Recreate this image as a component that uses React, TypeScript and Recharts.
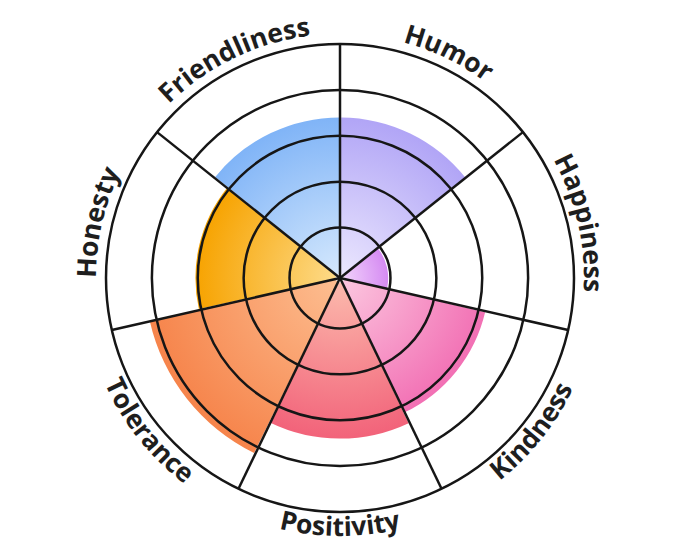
import { RadialBarChart, RadialBar, PolarAngleAxis, PolarRadiusAxis, PolarGrid, Sector } from "recharts";

// categories clockwise from 12 o'clock
const categories = ["Humor", "Happiness", "Kindness", "Positivity", "Tolerance", "Honesty", "Friendliness"];
const scores = [68, 19, 63, 68, 83, 61, 68];
const ringTicks = [20, 40, 60, 80, 100];

const innerColors = ["#ece8fe", "#f3d6fc", "#fcc8e0", "#fcbcae", "#fdbf92", "#fddc8c", "#d6e9fd"];
const outerColors = ["#b1a5f6", "#d58bf2", "#f270b4", "#f2637a", "#f6844b", "#f7a300", "#80b4f7"];

const data = categories.map((name, i) => ({ name, score: scores[i] }));

const CX = 340;
const CY = 278;
const OUTER = 234;
const LINE = "#161616";
const BAND = 360 / categories.length;

function polar(cx: number, cy: number, r: number, deg: number): [number, number] {
  const a = (deg * Math.PI) / 180;
  return [cx + r * Math.sin(a), cy - r * Math.cos(a)];
}

function GradientSector(props: any) {
  const { cx, cy, innerRadius, outerRadius, startAngle, endAngle, index } = props;
  const id = `sector-grad-${index}`;
  return (
    <g>
      <defs>
        <radialGradient id={id} gradientUnits="userSpaceOnUse" cx={cx} cy={cy} r={outerRadius}>
          <stop offset="0%" stopColor={innerColors[index]} />
          <stop offset="100%" stopColor={outerColors[index]} />
        </radialGradient>
      </defs>
      <Sector
        cx={cx}
        cy={cy}
        innerRadius={innerRadius}
        outerRadius={outerRadius}
        startAngle={startAngle}
        endAngle={endAngle}
        fill={`url(#${id})`}
        stroke="none"
      />
    </g>
  );
}

function CurvedTick(props: any) {
  const { index, payload } = props;
  const mid = (index + 0.5) * BAND;
  const flip = mid > 90 && mid < 270;
  const r = flip ? 258 : 244;
  const span = 50;
  const [x1, y1] = polar(CX, CY, r, flip ? mid + span : mid - span);
  const [x2, y2] = polar(CX, CY, r, flip ? mid - span : mid + span);
  const id = `label-arc-${index}`;
  const d = `M ${x1} ${y1} A ${r} ${r} 0 0 ${flip ? 0 : 1} ${x2} ${y2}`;
  return (
    <g>
      <path id={id} d={d} fill="none" stroke="none" />
      <text fontFamily="'Open Sans', sans-serif" fontSize={26.5} fontWeight={700} fill="#1e1e1e">
        <textPath href={`#${id}`} startOffset="50%" textAnchor="middle">
          {payload.value}
        </textPath>
      </text>
    </g>
  );
}

export default function App() {
  const boundaries = categories.map((_, i) => 90 - i * BAND);
  return (
    <div style={{ width: 680, height: 557 }}>
      <style>{`body { margin: 0; }`}</style>
      <RadialBarChart
        width={680}
        height={557}
        data={data}
        layout="centric"
        cx={CX}
        cy={CY}
        innerRadius={0}
        outerRadius={OUTER}
        // band offset: recharts puts the first bar one band counter-clockwise of startAngle
        startAngle={90 - BAND}
        endAngle={-270 - BAND}
        barCategoryGap={0}
        barGap={0}
        margin={{ top: 0, right: 0, bottom: 0, left: 0 }}
      >
        <PolarAngleAxis type="category" dataKey="name" axisLine={false} tickLine={false} tick={CurvedTick} />
        <PolarRadiusAxis type="number" domain={[-2, 100]} ticks={ringTicks} tick={false} axisLine={false} />
        <RadialBar dataKey="score" isAnimationActive={false} shape={GradientSector} />
        <PolarGrid
          gridType="circle"
          polarAngles={boundaries}
          stroke={LINE}
          strokeWidth={2.5}
          strokeOpacity={1}
          zIndex={900}
        />
      </RadialBarChart>
    </div>
  );
}
